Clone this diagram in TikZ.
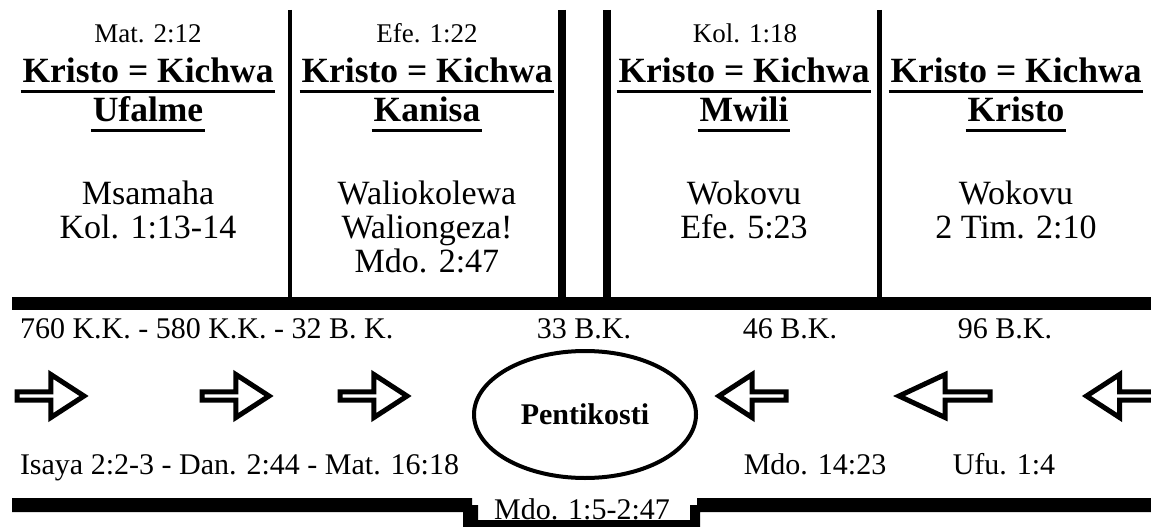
\documentclass[tikz,border=0pt]{standalone}
\usepackage{fontspec}
\setmainfont{Liberation Serif}
\usetikzlibrary{shapes.geometric}
\usetikzlibrary{shapes.arrows}

\tikzset{
  refline/.style={font=\fontsize{27}{30}\selectfont,anchor=base,inner sep=0},
  headline/.style={font=\bfseries\fontsize{35.5}{38}\selectfont,anchor=base,inner sep=0},
  bodyline/.style={font=\fontsize{34}{36}\selectfont,anchor=base,inner sep=0},
  dateline/.style={font=\fontsize{30}{32}\selectfont,anchor=base,inner sep=0},
  underl/.style={line width=3.5pt},
  fatarrow/.style={single arrow,draw,line width=5pt,fill=white,minimum height=67pt,
    minimum width=43pt,single arrow head extend=10.5pt,single arrow tip angle=66,inner sep=0},
}

\begin{document}
\begin{tikzpicture}[x=1pt,y=-1pt,line width=4pt]
\clip (0,0) rectangle (1151,527);
% time line
\fill (12,297) rectangle (1151,310);
\fill (12,498) -- (472,498) -- (472,505) -- (478,505) -- (478,520) -- (690,520) -- (690,505)
  -- (697,505) -- (697,498) -- (1151,498) -- (1151,512) -- (700,512) -- (700,527)
  -- (463,527) -- (463,512) -- (12,512) -- cycle;
\draw[line width=4.5pt] (290,10) -- (290,298);
\draw[line width=8pt] (562,10) -- (562,298);
\draw[line width=8pt] (607,10) -- (607,298);
\draw[line width=5pt] (879,10) -- (879,298);

\node[refline] (ref1) at (148,43) {Mat. 2:12};
\node[headline] (kq1) at (148,82) {Kristo = Kichwa};
\node[headline] (kw1) at (148,121) {Ufalme};
\node[bodyline] (ms1) at (148,204) {Msamaha};
\node[bodyline] (vs1) at (148,238) {Kol. 1:13-14};

\node[refline] (ref2) at (427,43) {Efe. 1:22};
\node[headline] (kq2) at (427,82) {Kristo = Kichwa};
\node[headline] (kw2) at (427,121) {Kanisa};
\node[bodyline] (ms2) at (427,204) {Waliokolewa};
\node[bodyline] (ms2b) at (427,238) {Waliongeza!};
\node[bodyline] (vs2) at (427,272) {Mdo. 2:47};

\node[refline] (ref3) at (745,43) {Kol. 1:18};
\node[headline] (kq3) at (744,82) {Kristo = Kichwa};
\node[headline] (kw3) at (744,121) {Mwili};
\node[bodyline] (ms3) at (744,204) {Wokovu};
\node[bodyline] (vs3) at (744,238) {Efe. 5:23};

\node[headline] (kq4) at (1016,82) {Kristo = Kichwa};
\node[headline] (kw4) at (1016,121) {Kristo};
\node[bodyline] (ms4) at (1016,204) {Wokovu};
\node[bodyline] (vs4) at (1016,238) {2 Tim. 2:10};

% underlines
\draw[underl] ([yshift=-7pt]kq1.south west) -- ([yshift=-7pt]kq1.south east);
\draw[underl] ([yshift=-7pt]kw1.south west) -- ([yshift=-7pt]kw1.south east);
\draw[underl] ([yshift=-7pt]kq2.south west) -- ([yshift=-7pt]kq2.south east);
\draw[underl] ([yshift=-7pt]kw2.south west) -- ([yshift=-7pt]kw2.south east);
\draw[underl] ([yshift=-7pt]kq3.south west) -- ([yshift=-7pt]kq3.south east);
\draw[underl] ([yshift=-7pt]kw3.south west) -- ([yshift=-7pt]kw3.south east);
\draw[underl] ([yshift=-7pt]kq4.south west) -- ([yshift=-7pt]kq4.south east);
\draw[underl] ([yshift=-7pt]kw4.south west) -- ([yshift=-7pt]kw4.south east);

\node[dateline,anchor=base west] (dt1) at (18,338) {760 K.K. - 580 K.K. - 32 B. K.};
\node[dateline] (dt2) at (584,338) {33 B.K.};
\node[dateline] (dt3) at (790,338) {46 B.K.};
\node[dateline] (dt4) at (1005,338) {96 B.K.};

\node[fatarrow,anchor=tail] (ar1) at (14.5,396) {};
\node[fatarrow,anchor=tail] (ar2) at (199.5,396) {};
\node[fatarrow,anchor=tail] (ar3) at (337.5,396) {};
\node[fatarrow,shape border rotate=180,anchor=tail] (al1) at (788.5,396) {};
\node[fatarrow,shape border rotate=180,anchor=tail,minimum height=91pt,
  single arrow tip angle=50] (al2) at (992.5,396) {};
\node[fatarrow,shape border rotate=180,anchor=tail] (al3) at (1156,396) {};

\node[ellipse,draw,line width=4pt,minimum width=222pt,minimum height=127pt,inner sep=0,
  font=\bfseries\fontsize{30}{32}\selectfont] (pent) at (585,414.5) {Pentikosti};

\node[dateline,anchor=base west] (vr1) at (18,474) {Isaya 2:2-3 - Dan. 2:44 - Mat. 16:18};
\node[dateline] (vr2) at (815,474) {Mdo. 14:23};
\node[dateline] (vr3) at (1004,474) {Ufu. 1:4};
\node[dateline] (vr4) at (582,519) {Mdo. 1:5-2:47};
\end{tikzpicture}
\end{document}
